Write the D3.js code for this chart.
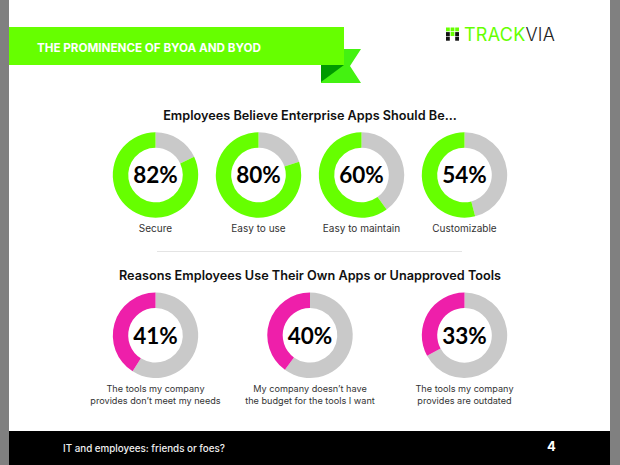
<!DOCTYPE html>
<html>
<head>
<meta charset="utf-8">
<script src="https://cdnjs.cloudflare.com/ajax/libs/d3/7.8.5/d3.min.js"></script>
<style>
html, body { margin: 0; padding: 0; background: #808080; }
svg { display: block; }
text { font-family: Inter, Lato, sans-serif; }
</style>
</head>
<body>
<script>
var beliefLabels = ["Secure", "Easy to use", "Easy to maintain", "Customizable"];
var beliefValues = [82, 80, 60, 54];
var reasonLabels = [
    ["The tools my company", "provides don\u2019t meet my needs"],
    ["My company doesn\u2019t have", "the budget for the tools I want"],
    ["The tools my company", "provides are outdated"]
];
var reasonValues = [41, 40, 33];

var width = 620, height = 465;
var green = "#66ff00", magenta = "#ee1faa", grey = "#c9c9c9";

var svg = d3.select("body").append("svg").attr("width", width).attr("height", height);

// page and footer
svg.append("rect").attr("x", 9).attr("y", 0).attr("width", 601).attr("height", 465).attr("fill", "#fff");
svg.append("rect").attr("x", 9).attr("y", 431).attr("width", 601).attr("height", 34).attr("fill", "#000");
svg.append("text").attr("x", 63).attr("y", 451.5).attr("fill", "#f0f0f0").attr("font-size", 9.8).attr("font-weight", 500)
    .text("IT and employees: friends or foes?");
svg.append("text").attr("x", 551.5).attr("y", 451).attr("fill", "#fff").attr("font-size", 13).attr("font-weight", 700)
    .attr("text-anchor", "middle").text("4");

// ribbon
svg.append("path").attr("d", "M321 49H361L350 66L361 83H321Z").attr("fill", "#44f211");
svg.append("path").attr("d", "M321 65H344L321 82Z").attr("fill", "#009a00");
svg.append("rect").attr("x", 9).attr("y", 27).attr("width", 335).attr("height", 38).attr("fill", green);
svg.append("text").attr("x", 37).attr("y", 51.5).attr("fill", "#fff").attr("font-size", 11.65).attr("font-weight", 700)
    .text("THE PROMINENCE OF BYOA AND BYOD");

// logo
var logoCells = [[0, 0], [1, 0], [2, 0], [0, 1], [2, 1], [0, 2], [2, 2]];
logoCells.forEach(function (c) {
    var top = c[1] === 0;
    svg.append("rect").attr("x", 446 + c[0] * 4.6).attr("y", 27.5 + c[1] * (top ? 0 : 4.6)).attr("width", 3.8).attr("height", top ? 3.8 : 4)
        .attr("fill", top ? green : "#111");
});
svg.append("rect").attr("x", 450.6).attr("y", 32).attr("width", 3.8).attr("height", 4).attr("fill", green);
var logo = svg.append("text").attr("x", 464).attr("y", 40.5).attr("font-size", 18).attr("letter-spacing", 0.25).attr("font-weight", 400);
logo.append("tspan").attr("fill", green).text("TRACK");
logo.append("tspan").attr("fill", "#222").attr("font-weight", 300).text("VIA");

// headings
svg.append("text").attr("x", 310).attr("y", 119.5).attr("text-anchor", "middle").attr("font-size", 12.7).attr("font-weight", 600).attr("fill", "#111")
    .text("Employees Believe Enterprise Apps Should Be...");
svg.append("text").attr("x", 310).attr("y", 280).attr("text-anchor", "middle").attr("font-size", 12.7).attr("font-weight", 600).attr("fill", "#111")
    .text("Reasons Employees Use Their Own Apps or Unapproved Tools");
svg.append("line").attr("x1", 157).attr("x2", 462).attr("y1", 251.5).attr("y2", 251.5).attr("stroke", "#e4e4e4");

var arc = d3.arc().innerRadius(27.3).outerRadius(42.7);
var pie = d3.pie().sort(null);

function drawDonuts(values, labels, xScale, cy, color, labelY, labelSize) {
    values.forEach(function (v, i) {
        var g = svg.append("g").attr("transform", "translate(" + xScale(i) + "," + cy + ")");
        // grey remainder starts at 12 o'clock, coloured part closes the ring
        g.selectAll("path").data(pie([100 - v, v])).enter().append("path")
            .attr("d", arc)
            .attr("fill", function (d, j) { return j === 1 ? color : grey; });
        g.append("text").attr("text-anchor", "middle").attr("y", 8.3).style("font-family", "Lato").attr("font-size", 22.5).attr("font-weight", 700).attr("fill", "#000")
            .text(v + "%");
        [].concat(labels[i]).forEach(function (line, j) {
            svg.append("text").attr("x", xScale(i)).attr("y", labelY + j * 12).attr("text-anchor", "middle")
                .attr("font-size", labelSize).attr("fill", "#333").text(line);
        });
    });
}

var xBelief = d3.scaleLinear().domain([0, 3]).range([155.5, 464.5]);
var xReason = d3.scaleLinear().domain([0, 2]).range([155.5, 464.5]);
drawDonuts(beliefValues, beliefLabels, xBelief, 175, green, 232, 10);
drawDonuts(reasonValues, reasonLabels, xReason, 335.3, magenta, 391.5, 9.15);
</script>
</body>
</html>
